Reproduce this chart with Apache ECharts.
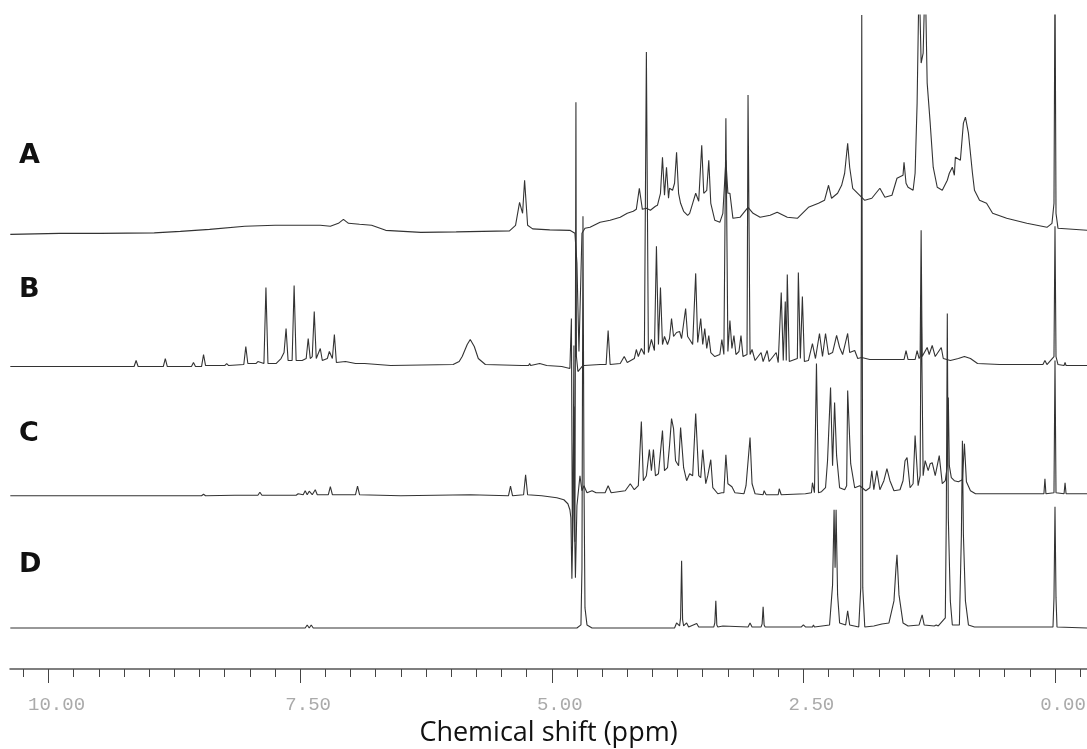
<!DOCTYPE html>
<html>
<head>
<meta charset="utf-8">
<title>NMR spectra</title>
<script src="https://cdn.jsdelivr.net/npm/echarts@6/dist/echarts.min.js"></script>
<style>
  html, body { margin: 0; padding: 0; background: #fff; }
  #main { width: 1087px; height: 749px; }
</style>
</head>
<body>
<div id="main"></div>
<script>
// trace labels and axis tick labels
var traceNames = ['A', 'B', 'C', 'D'];
var majorTicks = [10, 7.5, 5, 2.5, 0];

// spectra, [chemical shift (ppm), intensity (a.u.)]
var specA = [
  [10.38,-1],[9.89,0],[9.49,0],[8.95,0.5],[8.69,2],[8.40,4],[8.05,7],[7.75,8],[7.45,8],[7.30,8],
  [7.20,7],[7.12,10],[7.07,14],[7.02,10],[6.91,9],[6.79,8],[6.65,3],[6.30,1],[5.95,1.5],[5.42,2.5],
  [5.36,8],[5.32,31],[5.29,20],[5.27,53],[5.24,8],[5.19,4.5],[5.02,3.5],[4.82,3],[4.77,0],[4.75,-30],
  [4.73,-118],[4.71,-40],[4.70,0],[4.67,5],[4.62,6],[4.52,11],[4.42,13],[4.32,16],[4.25,20],[4.19,22],
  [4.16,24],[4.13,45],[4.10,24],[4.06,25],[4.02,23],[3.97,27],[3.95,28],[3.92,40],[3.90,76],[3.88,38],
  [3.86,66],[3.84,35],[3.83,45],[3.80,43],[3.78,50],[3.76,81],[3.74,40],[3.72,30],[3.69,22],[3.65,18],
  [3.63,20],[3.60,30],[3.57,40],[3.54,32],[3.51,88],[3.49,40],[3.46,43],[3.44,73],[3.42,30],[3.38,13],
  [3.33,11],[3.30,20],[3.27,73],[3.25,40],[3.23,40],[3.20,15],[3.13,16],[3.05,26],[3.00,20],[2.93,16],
  [2.83,18],[2.76,21],[2.66,16],[2.56,15],[2.45,26],[2.35,30],[2.29,33],[2.25,48],[2.22,35],[2.16,40],
  [2.12,48],[2.09,60],[2.06,90],[2.04,66],[2.01,45],[1.96,40],[1.89,33],[1.82,35],[1.74,45],[1.69,36],
  [1.62,38],[1.57,55],[1.51,58],[1.50,71],[1.48,50],[1.46,46],[1.41,43],[1.39,60],[1.37,130],[1.35,260],
  [1.33,170],[1.31,180],[1.29,260],[1.27,150],[1.24,110],[1.21,66],[1.17,46],[1.12,43],[1.07,53],[1.05,60],
  [1.02,66],[1.00,58],[0.99,76],[0.94,73],[0.91,110],[0.89,116],[0.86,100],[0.82,60],[0.80,43],[0.75,33],
  [0.68,30],[0.62,20],[0.48,15],[0.28,10],[0.08,6],[0.03,10],[0.01,30],[0.00,260],[-0.01,20],[-0.03,5],
  [-0.32,3]
];

var specB = [
  [10.38,0],[9.15,0],[9.13,6],[9.11,0],[8.86,0],[8.84,8],[8.82,0],[8.58,0],[8.56,4],[8.54,0],
  [8.48,0],[8.46,12],[8.44,1],[8.25,1],[8.23,3],[8.21,1],[8.06,2],[8.04,20],[8.02,3],[7.94,3],
  [7.92,5],[7.86,3],[7.84,79],[7.82,3],[7.74,3],[7.69,8],[7.66,14],[7.64,38],[7.62,6],[7.58,6],
  [7.56,81],[7.54,6],[7.48,6],[7.44,8],[7.42,28],[7.40,8],[7.38,10],[7.36,55],[7.34,8],[7.30,18],
  [7.28,6],[7.23,8],[7.21,15],[7.18,8],[7.16,32],[7.14,4],[7.05,5],[6.95,3],[6.86,3],[6.60,1],
  [5.98,2],[5.92,5],[5.89,10],[5.84,22],[5.81,27],[5.77,20],[5.73,8],[5.66,2],[5.30,1],[5.23,1],
  [5.22,3],[5.21,1],[5.12,3],[5.05,1],[4.90,0],[4.82,-2],[4.805,48],[4.795,-178],[4.78,-40],[4.77,-175],
  [4.76,264],[4.755,10],[4.74,-5],[4.70,0],[4.68,1],[4.52,2],[4.46,2],[4.44,36],[4.42,2],[4.32,3],
  [4.28,10],[4.25,4],[4.18,8],[4.16,17],[4.14,10],[4.11,18],[4.08,12],[4.06,314],[4.04,14],[4.01,27],
  [3.98,16],[3.96,120],[3.94,22],[3.92,79],[3.90,22],[3.88,30],[3.85,22],[3.83,28],[3.81,48],[3.79,30],
  [3.76,34],[3.73,35],[3.71,28],[3.67,58],[3.65,30],[3.63,27],[3.60,22],[3.57,93],[3.55,24],[3.52,48],
  [3.50,22],[3.48,38],[3.46,18],[3.44,31],[3.42,14],[3.38,10],[3.33,12],[3.31,27],[3.29,12],[3.27,248],
  [3.25,15],[3.23,46],[3.21,18],[3.19,31],[3.17,12],[3.14,15],[3.12,31],[3.10,10],[3.06,12],[3.05,271],
  [3.03,12],[3.01,17],[2.98,6],[2.92,14],[2.90,5],[2.86,16],[2.84,5],[2.77,14],[2.75,4],[2.72,74],
  [2.70,6],[2.68,65],[2.67,6],[2.66,92],[2.64,5],[2.56,8],[2.55,94],[2.53,8],[2.51,70],[2.49,5],
  [2.45,6],[2.41,23],[2.38,8],[2.34,33],[2.31,10],[2.28,33],[2.25,12],[2.21,14],[2.17,31],[2.14,19],
  [2.11,12],[2.06,33],[2.04,14],[1.99,16],[1.96,8],[1.92,9],[1.84,7],[1.64,7],[1.50,7],[1.48,16],
  [1.46,7],[1.39,7],[1.37,16],[1.35,8],[1.34,10],[1.33,136],[1.32,10],[1.27,19],[1.25,12],[1.22,21],
  [1.19,10],[1.13,19],[1.11,8],[1.04,6],[0.96,8],[0.90,10],[0.84,8],[0.77,3],[0.55,2],[0.12,2],
  [0.10,6],[0.08,2],[0.01,10],[0.00,140],[-0.01,10],[-0.03,2],[-0.09,1],[-0.10,4],[-0.11,1],[-0.32,1]
];

var specC = [
  [10.38,0],[8.48,0],[8.46,1.5],[8.44,0],[8.15,0.5],[7.92,0.5],[7.90,3.5],[7.88,0.5],[7.54,0.5],[7.52,2],
  [7.47,1],[7.45,5],[7.43,1],[7.41,4.5],[7.38,1],[7.35,6],[7.33,1],[7.22,1],[7.20,9],[7.18,1],
  [7.10,1],[6.95,1],[6.93,9.5],[6.91,1],[6.50,0],[5.81,1],[5.43,0],[5.41,9.5],[5.39,0],[5.28,1],
  [5.26,21],[5.24,1],[5.10,0],[4.95,-2],[4.88,-4],[4.84,-8],[4.82,-14],[4.81,-22],[4.80,-83],[4.79,-30],
  [4.78,150],[4.775,-20],[4.765,-82],[4.75,-10],[4.72,20],[4.70,5],[4.68,10],[4.65,3],[4.60,5],[4.56,3],
  [4.47,3],[4.44,10],[4.41,3],[4.27,5],[4.22,12],[4.18,6],[4.14,10],[4.11,74],[4.09,15],[4.06,20],
  [4.03,46],[4.01,25],[3.99,46],[3.97,20],[3.94,22],[3.90,65],[3.88,25],[3.85,28],[3.83,50],[3.81,77],
  [3.79,67],[3.77,35],[3.74,30],[3.72,68],[3.69,28],[3.66,15],[3.63,22],[3.60,20],[3.57,82],[3.54,20],
  [3.52,18],[3.50,46],[3.47,12],[3.45,20],[3.42,36],[3.40,8],[3.35,2],[3.31,3],[3.29,3],[3.27,41],
  [3.25,12],[3.21,9],[3.18,3],[3.09,2],[3.07,10],[3.03,58],[3.01,12],[2.98,2],[2.90,1],[2.89,5],
  [2.87,1],[2.75,1],[2.74,7],[2.72,1],[2.48,2],[2.42,3],[2.41,13],[2.39,3],[2.37,132],[2.35,3],
  [2.32,4],[2.28,8],[2.26,35],[2.23,108],[2.21,30],[2.19,93],[2.17,40],[2.14,8],[2.09,6],[2.07,10],
  [2.06,105],[2.03,32],[1.99,8],[1.94,10],[1.88,5],[1.84,8],[1.82,25],[1.80,6],[1.77,25],[1.74,6],
  [1.70,15],[1.67,27],[1.64,15],[1.60,5],[1.54,6],[1.51,15],[1.49,35],[1.47,38],[1.44,8],[1.41,12],
  [1.39,60],[1.36,10],[1.34,20],[1.33,200],[1.31,20],[1.29,35],[1.26,25],[1.24,32],[1.22,33],[1.19,20],
  [1.15,40],[1.12,12],[1.09,15],[1.07,30],[1.06,98],[1.05,30],[1.03,18],[1.00,15],[0.96,14],[0.92,16],
  [0.90,52],[0.88,14],[0.84,5],[0.79,2],[0.13,2],[0.11,2],[0.10,17],[0.09,2],[0.01,3],[0.00,135],
  [-0.01,3],[-0.09,2],[-0.10,13],[-0.11,2],[-0.32,2]
];

var specD = [
  [10.38,0],[7.50,0],[7.45,0],[7.43,3],[7.41,0],[7.39,3],[7.37,0],[5.00,0],[4.75,0],[4.71,3],
  [4.70,60],[4.69,411],[4.68,150],[4.67,20],[4.65,3],[4.60,0],[3.95,0],[3.78,0],[3.76,5],[3.73,2],
  [3.72,10],[3.71,67],[3.70,8],[3.69,2],[3.66,5],[3.64,1],[3.56,4.5],[3.54,1],[3.39,1],[3.38,5],
  [3.37,27],[3.36,3],[3.35,1],[3.30,2],[3.05,1],[3.03,5],[3.01,1],[2.92,1],[2.91,4],[2.90,21],
  [2.89,3],[2.88,1],[2.52,1],[2.50,3],[2.48,1],[2.41,1],[2.40,3],[2.39,1],[2.24,3],[2.21,43],
  [2.195,118],[2.185,60],[2.175,118],[2.16,33],[2.14,5],[2.08,3],[2.06,17],[2.04,3],[1.95,1],[1.93,40],
  [1.92,612],[1.91,40],[1.89,1],[1.80,2],[1.72,4],[1.65,5],[1.60,27],[1.58,60],[1.57,73],[1.55,33],
  [1.51,5],[1.46,2],[1.35,3],[1.32,13],[1.30,3],[1.20,2],[1.18,3],[1.16,2],[1.09,10],[1.08,110],
  [1.07,314],[1.06,110],[1.04,27],[1.02,3],[0.95,3],[0.93,93],[0.92,187],[0.91,93],[0.89,27],[0.86,3],
  [0.80,1],[0.02,1],[0.01,30],[0.00,121],[-0.01,30],[-0.02,1],[-0.32,0]
];

// minor ticks every 0.25 ppm across the visible range
var minorTicks = [];
for (var t = -0.25; t <= 10.3; t += 0.25) minorTicks.push(Math.round(t * 100) / 100);

var myChart = echarts.init(document.getElementById('main'));

// each trace gets its own hidden y axis so that its baseline sits at its own height
var yRanges = [[-435, 218], [-302, 351], [-173, 480], [-41, 612]];
var labelTop = [156, 290, 434, 565];
var spectra = [specA, specB, specC, specD];

var option = {
  animation: false,
  backgroundColor: '#fff',
  grid: { left: 10, right: 0, top: 15, height: 654, outerBoundsMode: 'none' },
  xAxis: [
    {
      type: 'value',
      inverse: true,
      min: -0.318,
      max: 10.383,
      position: 'bottom',
      axisLine: { show: true, onZero: false, lineStyle: { color: '#555', width: 1.5 } },
      axisTick: { show: true, customValues: minorTicks, length: 8, lineStyle: { color: '#444' } },
      axisLabel: { show: false },
      splitLine: { show: false }
    },
    {
      type: 'value',
      inverse: true,
      min: -0.318,
      max: 10.383,
      position: 'bottom',
      offset: 0,
      axisLine: { show: false, onZero: false },
      axisTick: { show: true, customValues: majorTicks, length: 14, lineStyle: { color: '#444' } },
      axisLabel: {
        show: true,
        customValues: majorTicks,
        formatter: function (v) { return v.toFixed(2); },
        margin: 26,
        padding: [0, 0, 0, 16],
        color: '#aaa',
        fontSize: 19,
        fontFamily: 'Liberation Mono'
      },
      splitLine: { show: false },
      name: 'Chemical shift (ppm)',
      nameLocation: 'middle',
      nameGap: 51,
      nameTextStyle: { fontSize: 27, fontFamily: 'Open Sans', color: '#111' }
    }
  ],
  yAxis: yRanges.map(function (r) {
    return { type: 'value', min: r[0], max: r[1], show: false, splitLine: { show: false } };
  }),
  series: spectra.map(function (d, i) {
    return {
      name: traceNames[i],
      type: 'line',
      xAxisIndex: 0,
      yAxisIndex: i,
      data: d,
      showSymbol: false,
      symbol: 'none',
      clip: true,
      lineStyle: { color: '#333', width: 1.1 },
      z: 2
    };
  }),
  graphic: traceNames.map(function (n, i) {
    return {
      type: 'text',
      left: 19,
      top: labelTop[i] - 14,
      style: { text: n, font: 'bold 27px "DejaVu Sans"', fill: '#111' }
    };
  })
};

myChart.setOption(option);
</script>
</body>
</html>
